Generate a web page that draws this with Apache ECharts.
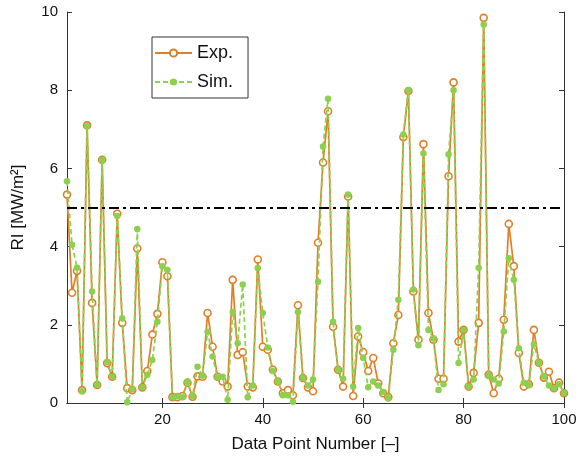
<!DOCTYPE html>
<html>
<head>
<meta charset="utf-8">
<script src="https://cdn.jsdelivr.net/npm/echarts@6/dist/echarts.min.js"></script>
<style>
  html, body { margin: 0; padding: 0; background: #fff; }
  #chart { width: 584px; height: 461px; }
</style>
</head>
<body>
<div id="chart"></div>
<script>
// Measured (Exp.) and simulated (Sim.) RI per data point, MW/m^2
const pointNumbers = Array.from({ length: 100 }, (_, k) => k + 1);
const expValues = [
  5.33, 2.82, 3.38, 0.33, 7.10, 2.56, 0.46, 6.22, 1.02, 0.67,
  4.84, 2.05, 0.38, 0.33, 3.95, 0.40, 0.82, 1.75, 2.28, 3.60,
  3.24, 0.15, 0.15, 0.18, 0.52, 0.16, 0.68, 0.67, 2.30, 1.44,
  0.67, 0.55, 0.42, 3.15, 1.23, 1.30, 0.42, 0.40, 3.67, 1.44,
  1.36, 0.85, 0.55, 0.25, 0.33, 0.20, 2.50, 0.64, 0.40, 0.30,
  4.10, 6.15, 7.46, 1.95, 0.85, 0.42, 5.28, 0.18, 1.70, 1.30,
  0.82, 1.15, 0.50, 0.25, 0.15, 1.53, 2.25, 6.80, 7.98, 2.85,
  1.62, 6.62, 2.30, 1.62, 0.62, 0.62, 5.80, 8.20, 1.57, 1.87,
  0.42, 0.77, 2.05, 9.85, 0.72, 0.25, 0.62, 2.13, 4.58, 3.50,
  1.28, 0.42, 0.48, 1.87, 1.03, 0.65, 0.80, 0.38, 0.52, 0.25
];
const simValues = [
  5.67, 4.05, 3.46, 0.30, 7.08, 2.85, 0.46, 6.22, 1.05, 0.67,
  4.78, 2.17, 0.02, 0.35, 4.45, 0.40, 0.72, 1.10, 2.08, 3.50,
  3.40, 0.15, 0.17, 0.15, 0.55, 0.18, 0.93, 0.70, 1.82, 1.19,
  0.65, 0.67, 0.08, 2.33, 1.53, 3.03, 0.15, 0.45, 3.45, 2.30,
  1.42, 0.82, 0.55, 0.20, 0.20, 0.03, 2.33, 0.64, 0.45, 0.60,
  3.10, 6.56, 7.78, 2.08, 0.85, 0.62, 5.33, 0.42, 1.92, 1.15,
  0.40, 0.55, 0.45, 0.28, 0.12, 1.36, 2.64, 6.87, 8.00, 2.90,
  1.48, 6.38, 1.87, 1.65, 0.33, 0.48, 6.36, 8.00, 1.02, 1.87,
  0.42, 0.60, 3.46, 9.68, 0.70, 0.60, 0.50, 1.83, 3.70, 3.15,
  1.40, 0.52, 0.46, 1.50, 1.03, 0.68, 0.45, 0.38, 0.48, 0.25
];
const xTickValues = [20, 40, 60, 80, 100];
const yTickValues = [0, 2, 4, 6, 8, 10];
const thresholdRI = 5;

const expColor = '#DF7F26';
const simColor = '#8DCF4E';
const font = 'Liberation Sans, Arial, Helvetica, sans-serif';

const pair = (vals) => pointNumbers.map((n, k) => [n, vals[k]]);

const chart = echarts.init(document.getElementById('chart'), null, { renderer: 'canvas' });

const boxAxisLine = { show: true, lineStyle: { color: '#333', width: 1 } };
const tickIn = { show: true, inside: true, length: 5, lineStyle: { color: '#333', width: 1 } };

chart.setOption({
  animation: false,
  backgroundColor: '#fff',
  grid: { left: 67, right: 20, top: 12, bottom: 58, containLabel: false },
  legend: {
    orient: 'vertical',
    left: 152,
    top: 37,
    itemWidth: 37,
    itemHeight: 9,
    itemGap: 11,
    padding: [7, 15, 7, 2],
    borderColor: '#333',
    borderWidth: 1,
    backgroundColor: '#fff',
    textStyle: { fontFamily: font, fontSize: 18, lineHeight: 18, color: '#111' },
    data: ['Exp.', 'Sim.']
  },
  xAxis: [
    {
      type: 'value', min: 1, max: 100, position: 'bottom',
      name: 'Data Point Number [\u2013]', nameLocation: 'middle', nameGap: 33,
      nameTextStyle: { fontFamily: font, fontSize: 17, color: '#111' },
      axisLine: boxAxisLine,
      axisTick: Object.assign({ customValues: xTickValues }, tickIn),
      axisLabel: { customValues: xTickValues, margin: 9, fontFamily: font, fontSize: 15, color: '#111' },
      splitLine: { show: false }
    },
    {
      type: 'value', min: 1, max: 100, position: 'top',
      axisLine: boxAxisLine,
      axisTick: Object.assign({ customValues: xTickValues }, tickIn),
      axisLabel: { show: false },
      splitLine: { show: false }
    }
  ],
  yAxis: [
    {
      type: 'value', min: 0, max: 10, interval: 2, position: 'left',
      name: 'RI [MW/m\u00B2]', nameLocation: 'middle', nameGap: 40,
      nameTextStyle: { fontFamily: font, fontSize: 17, color: '#111' },
      axisLine: boxAxisLine,
      axisTick: Object.assign({ customValues: yTickValues }, tickIn),
      axisLabel: { customValues: yTickValues, margin: 9, fontFamily: font, fontSize: 15, color: '#111' },
      splitLine: { show: false }
    },
    {
      type: 'value', min: 0, max: 10, interval: 2, position: 'right',
      axisLine: boxAxisLine,
      axisTick: Object.assign({ customValues: yTickValues }, tickIn),
      axisLabel: { show: false },
      splitLine: { show: false }
    }
  ],
  series: [
    {
      name: 'Exp.',
      type: 'line',
      data: pair(expValues),
      symbol: 'circle',
      symbolSize: 7,
      showAllSymbol: true,
      z: 2,
      lineStyle: { color: expColor, width: 1.7, type: 'solid' },
      itemStyle: { color: '#fff', borderColor: expColor, borderWidth: 1.6 },
      markLine: {
        silent: true,
        symbol: ['none', 'none'],
        label: { show: false },
        lineStyle: { color: '#000', width: 2, type: [10, 4, 3, 4] },
        data: [{ yAxis: thresholdRI }]
      }
    },
    {
      name: 'Sim.',
      type: 'line',
      data: pair(simValues),
      symbol: 'circle',
      symbolSize: 6.5,
      showAllSymbol: true,
      z: 3,
      lineStyle: { color: simColor, width: 1.7, type: [5, 3] },
      itemStyle: { color: simColor, borderColor: simColor, borderWidth: 0 }
    }
  ]
});
</script>
</body>
</html>
